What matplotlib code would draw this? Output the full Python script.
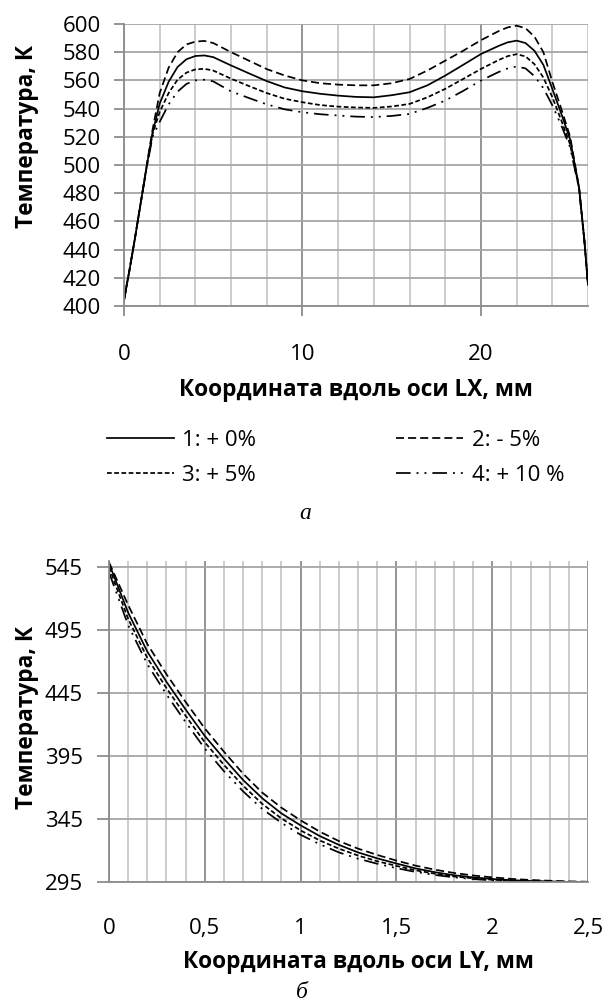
import numpy as np
import matplotlib
matplotlib.use('Agg')
import matplotlib.pyplot as plt
from matplotlib.ticker import MultipleLocator, FixedLocator

plt.rcParams['font.family'] = ['Open Sans', 'DejaVu Sans']
plt.rcParams['lines.scale_dashes'] = False

# --- данные (a): температура вдоль оси LX ---
x_lx = [0, 0.3, 0.6, 1, 1.3, 1.6, 2, 2.5, 3, 3.5, 4, 4.5, 5, 6, 7, 8, 9, 10, 11, 12,
        13, 14, 15, 16, 17, 18, 19, 20, 21, 21.5, 22, 22.5, 23, 23.5, 24, 24.5, 25, 25.5,
        25.8, 26]
t_lx_0 = [404, 425, 447, 478, 501, 523, 543.5, 559, 569.5, 575, 577.3, 577.7, 576.5, 570.6,
          565, 559.5, 555, 552.3, 550.5, 549.2, 548.3, 548, 549.5, 551.6, 556.5, 563.4, 571,
          578.7, 584.5, 587, 588.2, 586.5, 581, 571, 554, 536.5, 518, 484, 446, 415]
t_lx_m5 = [405, 425, 447, 478, 502, 525, 551, 569, 580, 585.5, 587.5, 588, 586.5, 580,
           574, 568, 563.5, 560, 558, 557, 556.5, 556.5, 558, 561, 567, 574, 581,
           588.5, 595, 597.6, 598.8, 597, 591, 580, 559, 540, 520, 484, 446, 415]
t_lx_p5 = [404, 425, 447, 478, 501, 522, 537.6, 551, 560.5, 565.5, 567.8, 568.2, 567, 561.2,
           556, 551, 547, 544.5, 542.5, 541.4, 540.8, 540.5, 541.5, 543.3, 548, 554, 561,
           568.1, 574.5, 577.2, 578.6, 577, 571.5, 562, 548.2, 531.8, 514.5, 483.5, 446, 415]
t_lx_p10 = [404, 425, 447, 478, 500, 520, 530.6, 543, 552, 557.5, 560, 560.5, 559.3, 552.2,
            547.5, 543, 539.5, 537.4, 536, 535.1, 534.3, 534, 534.8, 536.2, 540.5, 545.7, 552.5,
            559.9, 566, 568.5, 569.9, 568.5, 563, 554.5, 542.4, 528.2, 512.5, 483, 446, 415]

# --- данные (б): температура вдоль оси LY ---
x_ly = [0, 0.1, 0.2, 0.3, 0.4, 0.5, 0.6, 0.7, 0.8, 0.9, 1.0, 1.1, 1.2, 1.3, 1.4, 1.5,
        1.6, 1.7, 1.8, 1.9, 2.0, 2.1, 2.2, 2.3, 2.4, 2.5]
t_ly_0 = [548, 509, 478, 454, 432, 411, 393, 376, 361.5, 349.5, 340, 331.5, 324.5, 318.5,
          313.8, 309.7, 305.8, 302.8, 300.4, 298.7, 297.4, 296.5, 295.8, 295.4, 295.1, 295]
t_ly_m5 = [549, 515, 484, 460, 438, 417, 398.5, 381, 366, 354, 344, 335, 327.5, 321.5,
           316.5, 312, 308, 304.8, 302.2, 300.2, 298.7, 297.5, 296.6, 296, 295.5, 295.2]
t_ly_p5 = [545, 504, 473, 449, 427, 406, 388, 371.5, 357, 345.5, 336, 328, 321.5, 316,
           311.5, 307.8, 304.3, 301.6, 299.4, 297.9, 296.8, 296, 295.5, 295.2, 295.1, 295]
t_ly_p10 = [541, 499, 468, 444, 422, 401, 383, 367, 353, 342, 332.5, 325, 318.5, 313.5,
            309.5, 306, 303, 300.6, 298.7, 297.3, 296.3, 295.7, 295.3, 295.1, 295, 295]

labels = ['1: + 0%', '2: - 5%', '3: + 5%', '4: + 10 %']
ly_ticklabels = ['0', '0,5', '1', '1,5', '2', '2,5']

styles = ['-', (0, (5.8, 2.9)), (0, (3.4, 1.8)), (0, (10.5, 4.3, 1.4, 4.3, 1.4, 4.3))]

W, H = 602, 1005
fig = plt.figure(figsize=(W / 100, H / 100), dpi=100)


def box(l, t, r, b):
    return [l / W, 1 - b / H, (r - l) / W, (b - t) / H]


GRID_H = '#a6a6a6'
GRID_MINOR = '#c8c8c8'
GRID_MAJOR = '#8c8c8c'
FS = 16
FS_LBL = 16.3
LW = 1.25


def style_axes(ax):
    for s in ['top', 'right']:
        ax.spines[s].set_visible(False)
    for s in ['left', 'bottom']:
        ax.spines[s].set_color(GRID_MAJOR)
        ax.spines[s].set_linewidth(1.3)
    ax.grid(which='major', axis='y', color=GRID_H, lw=1.3)
    ax.grid(which='minor', axis='x', color=GRID_MINOR, lw=1.3)
    ax.grid(which='major', axis='x', color=GRID_MAJOR, lw=1.3)
    ax.set_axisbelow(True)
    ax.tick_params(which='minor', length=0)
    ax.tick_params(labelsize=FS, colors='black')
    ax.tick_params(which='major', color=GRID_MAJOR, width=1.3)


# ---------- (a) ----------
ax1 = fig.add_axes(box(124, 24, 588, 306))
lines = []
for t, ls, lab in zip([t_lx_0, t_lx_m5, t_lx_p5, t_lx_p10], styles, labels):
    ln, = ax1.plot(x_lx, t, color='black', lw=LW, ls=ls, label=lab)
    lines.append(ln)
ax1.set_xlim(0, 26)
ax1.set_ylim(400, 600)
ax1.xaxis.set_major_locator(MultipleLocator(10))
ax1.xaxis.set_minor_locator(MultipleLocator(2))
ax1.yaxis.set_major_locator(MultipleLocator(20))
style_axes(ax1)
ax1.tick_params(axis='x', which='major', length=7, pad=20)
ax1.tick_params(axis='y', which='major', length=7, pad=9.5)

fig.text(356 / W, 1 - 390 / H, 'Координата вдоль оси LX, мм', ha='center', va='center',
         fontsize=FS_LBL, fontweight='bold')
fig.text(27 / W, 1 - 137 / H, 'Температура, К', ha='center', va='center', rotation=90,
         fontsize=FS_LBL, fontweight='bold')

fig.legend([lines[0], lines[2], lines[1], lines[3]],
           [labels[0], labels[2], labels[1], labels[3]],
           ncol=2, frameon=False, fontsize=FS, loc='upper left',
           bbox_to_anchor=(98 / W, 1 - 421 / H), handlelength=3.0, handletextpad=0.4,
           columnspacing=6.3, labelspacing=0.62, borderaxespad=0)

fig.text(305 / W, 1 - 513 / H, 'а', ha='center', va='center', fontsize=17,
         family='Liberation Serif', style='italic')

# ---------- (б) ----------
ax2 = fig.add_axes(box(109, 561, 588, 882))
for t, ls in zip([t_ly_0, t_ly_m5, t_ly_p5, t_ly_p10], styles):
    ax2.plot(x_ly, t, color='black', lw=LW, ls=ls)
ax2.set_xlim(0, 2.5)
ax2.set_ylim(295, 550)
ax2.xaxis.set_major_locator(FixedLocator([0, 0.5, 1, 1.5, 2, 2.5]))
ax2.set_xticklabels(ly_ticklabels)
ax2.xaxis.set_minor_locator(MultipleLocator(0.1))
ax2.yaxis.set_major_locator(FixedLocator([295, 345, 395, 445, 495, 545]))
style_axes(ax2)
ax2.tick_params(axis='x', which='major', length=0, pad=26)
ax2.tick_params(axis='y', which='major', length=9, pad=10)

fig.text(358 / W, 1 - 962 / H, 'Координата вдоль оси LY, мм', ha='center', va='center',
         fontsize=FS_LBL, fontweight='bold')
fig.text(27 / W, 1 - 717 / H, 'Температура, К', ha='center', va='center', rotation=90,
         fontsize=FS_LBL, fontweight='bold')
fig.text(302 / W, 1 - 992 / H, 'б', ha='center', va='center', fontsize=17,
         family='Liberation Serif', style='italic')

fig.savefig('out.png', dpi=100)
